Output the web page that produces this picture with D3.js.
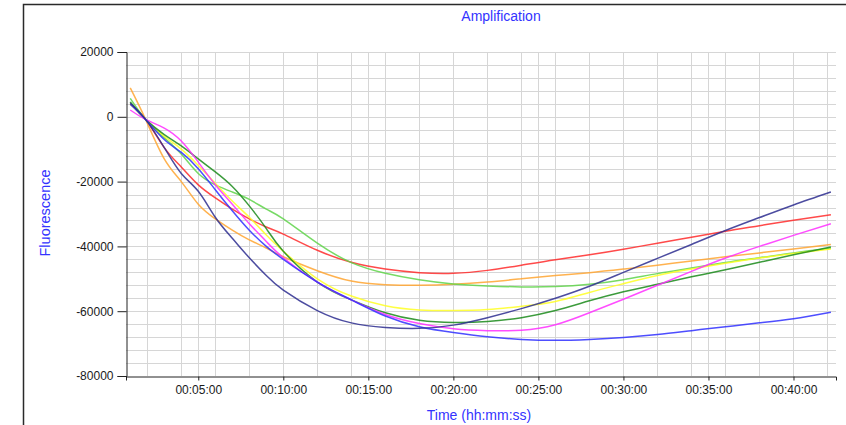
<!DOCTYPE html>
<html>
<head>
<meta charset="utf-8">
<script src="https://cdn.jsdelivr.net/npm/d3@7"></script>
<style>
  body { margin: 0; background: #fff; }
  svg { display: block; }
</style>
</head>
<body>
<script>
// time points, in minutes
let minutes = [1.0, 1.9, 3, 4, 5, 6, 7, 8, 9, 10, 12, 14, 16, 18, 20, 22, 24, 26, 28, 30, 32, 34, 36, 38, 40, 42.2];

let red       = [3900, -800, -9500, -15500, -21000, -25000, -28500, -31500, -34000, -36200, -41200, -44900, -47000, -48100, -48300, -47400, -45800, -44100, -42600, -40900, -39000, -37200, -35300, -33600, -31900, -30200];
let orange    = [8900, -800, -13000, -20000, -27000, -31500, -35000, -38000, -40500, -43200, -47500, -50700, -51800, -52000, -51700, -51000, -50000, -49000, -48100, -47000, -45800, -44500, -43200, -42000, -40800, -39400];
let ltGreen   = [5700, -800, -6500, -11500, -17500, -21000, -23200, -25500, -28500, -31500, -39000, -45000, -48300, -50300, -51600, -52200, -52500, -52400, -51700, -50300, -48400, -46700, -45000, -43500, -42000, -40600];
let yellow    = [4000, -800, -6000, -10000, -15000, -20500, -26000, -31000, -36500, -41500, -50000, -55300, -58300, -59600, -59800, -59500, -58500, -57000, -54200, -51500, -49000, -47000, -45200, -43600, -42200, -40800];
let dkGreen   = [4600, -800, -5500, -9000, -13000, -17000, -21500, -27500, -34500, -41500, -51000, -56500, -60500, -62800, -63500, -63200, -62000, -59800, -56800, -54000, -51700, -49400, -47200, -44900, -42600, -40200];
let magenta   = [2100, -800, -3500, -7500, -14000, -21000, -27000, -33000, -38500, -43500, -51000, -56500, -61000, -63800, -65400, -66000, -65900, -64200, -60500, -56300, -52000, -47700, -43600, -40000, -36600, -33000];
let blue      = [3900, -800, -7000, -11000, -16000, -22500, -29000, -35000, -40000, -44000, -51000, -56500, -61500, -64800, -66600, -67900, -68700, -69000, -68700, -68100, -67200, -66000, -64800, -63600, -62300, -60300];
let navy      = [4200, -800, -9500, -17500, -23000, -31000, -37500, -43500, -49000, -53500, -59800, -63600, -65000, -65300, -64300, -62000, -59200, -56000, -52300, -48000, -43700, -39400, -35100, -31100, -27200, -23200];

let series = [red, orange, ltGreen, yellow, dkGreen, magenta, blue, navy];
let colors = ["#ff2a2a", "#ffa530", "#5fd34a", "#ffff22", "#1a8a1a", "#ff2eff", "#2f2fff", "#2d2d8f"];

let yTicks = [20000, 0, -20000, -40000, -60000, -80000];
let xTicks = [5, 10, 15, 20, 25, 30, 35, 40];   // labelled minutes
let gridMin = d3.range(2, 43, 2);               // vertical grid every 2 minutes
let gridVal = d3.range(-76000, 20001, 4000);    // horizontal grid every 4000

let fmt = m => {
    let s = Math.round(m * 60);
    let p = n => String(n).padStart(2, "0");
    return p(Math.floor(s / 3600)) + ":" + p(Math.floor(s / 60) % 60) + ":" + p(s % 60);
};

let canvas = d3.select("body")
            .append("svg")
            .attr("width", 846)
            .attr("height", 425);

let x = d3.scaleLinear().domain([45, 2550]).range([126, 836]);   // seconds
let y = d3.scaleLinear().domain([-80000, 20000]).range([376, 52]);

// outer frame
canvas.append("rect")
    .attr("x", 23.5).attr("y", 4.5)
    .attr("width", 900).attr("height", 500)
    .attr("fill", "none")
    .attr("stroke", "#2a2a2a")
    .attr("stroke-width", 1.5);

// grid
let grid = canvas.append("g").attr("stroke", "#d6d6d6").attr("stroke-width", 1);
grid.selectAll(".v")
    .data(gridMin.concat(xTicks))
    .enter().append("line")
    .attr("x1", d => Math.round(x(d * 60)) + 0.5)
    .attr("x2", d => Math.round(x(d * 60)) + 0.5)
    .attr("y1", y(20000))
    .attr("y2", y(-80000));
grid.selectAll(".h")
    .data(gridVal)
    .enter().append("line")
    .attr("x1", x.range()[0])
    .attr("x2", x.range()[1])
    .attr("y1", d => Math.round(y(d)) + 0.5)
    .attr("y2", d => Math.round(y(d)) + 0.5);

// series
let line = d3.line()
            .x((d, i) => x(minutes[i] * 60))
            .y(d => y(d))
            .curve(d3.curveNatural);

canvas.append("g")
    .attr("fill", "none")
    .attr("stroke-width", 1.5)
    .selectAll("path")
    .data(series)
    .enter().append("path")
    .attr("d", line)
    .attr("stroke", (d, i) => colors[i])
    .attr("stroke-opacity", 0.85);

// axes
let yAxis = canvas.append("g")
    .attr("transform", "translate(126.5,0)")
    .call(d3.axisLeft(y).tickValues(yTicks).tickSize(9).tickPadding(4).tickFormat(d => String(d)));
let xAxis = canvas.append("g")
    .attr("transform", "translate(0,376.5)")
    .call(d3.axisBottom(x).tickValues(xTicks.map(m => m * 60)).tickSize(4).tickPadding(5).tickFormat(d => fmt(d / 60)));

[yAxis, xAxis].forEach(a => {
    a.select(".domain").attr("stroke", "#222");
    a.selectAll(".tick line").attr("stroke", "#222");
    a.selectAll("text")
        .attr("fill", "#1a1a1a")
        .style("font-family", "'Liberation Sans', Arial, sans-serif")
        .style("font-size", "12px");
});

// titles
let titleFont = "'Liberation Sans', Arial, sans-serif";
canvas.append("text")
    .attr("x", 501).attr("y", 21)
    .attr("text-anchor", "middle")
    .attr("fill", "#3333ff")
    .style("font-family", titleFont).style("font-size", "14px")
    .text("Amplification");

canvas.append("text")
    .attr("x", 479).attr("y", 420)
    .attr("text-anchor", "middle")
    .attr("fill", "#3333ff")
    .style("font-family", titleFont).style("font-size", "14px")
    .text("Time (hh:mm:ss)");

canvas.append("text")
    .attr("transform", "translate(50,213) rotate(-90)")
    .attr("text-anchor", "middle")
    .attr("fill", "#3333ff")
    .style("font-family", titleFont).style("font-size", "14.5px")
    .text("Fluorescence");
</script>
</body>
</html>
